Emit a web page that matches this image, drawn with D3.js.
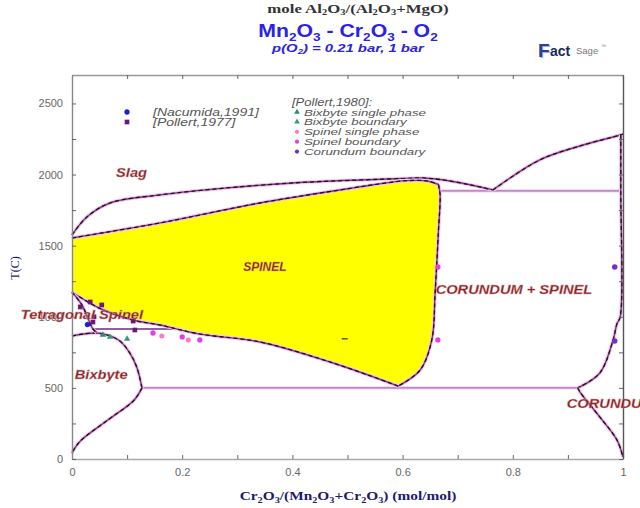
<!DOCTYPE html>
<html><head><meta charset="utf-8">
<script src="https://cdn.jsdelivr.net/npm/d3@7"></script>
<style>body{margin:0;background:#fff}svg{display:block}</style>
</head><body><svg id="c" width="640" height="508"></svg>
<script>
// ---------- data ----------
const xTickValues = [0,0.1,0.2,0.3,0.4,0.5,0.6,0.7,0.8,0.9,1];
const xTickLabels = ["0","","0.2","","0.4","","0.6","","0.8","","1"];
const yTickValues = [0,250,500,750,1000,1250,1500,1750,2000,2250,2500];
const yTickLabels = ["0","","500","","1000","","1500","","2000","","2500"];

// liquidus (slag boundary)
const liquidusLeft = [[0,1575],[0.027,1702],[0.069,1800],[0.16,1857],[0.281,1906],[0.401,1941],[0.523,1962],[0.6,1972],[0.637,1976],[0.668,1965],[0.72,1930],[0.764,1892]];
const liquidusRight = [[0.764,1892],[0.849,2103],[0.922,2201],[0.995,2278],[1.0,2285]];
// spinel single-phase field
const spinelTop = [[0,1554],[0.16,1660],[0.341,1800],[0.5,1900],[0.545,1927],[0.607,1957],[0.645,1955],[0.665,1930]];
const spinelRight = [[0.665,1930],[0.668,1860],[0.665,1600],[0.659,1167],[0.653,837],[0.632,626],[0.592,513]];
const spinelBottom = [[0.592,513],[0.47,680],[0.341,823],[0.23,880],[0.16,942],[0.111,977],[0.05,1060],[0,1174]];
// corundum boundary
const corundumUpper = [[0.996,2278],[0.996,1885],[0.995,1000],[0.989,950],[0.982,837],[0.958,605],[0.918,500]];
const corundumLower = [[0.918,500],[0.922,471],[0.958,295],[0.989,134],[1.0,14]];
// bixbyite boundary
const bixbyteUpper = [[0,865],[0.02,879],[0.05,884],[0.085,835],[0.105,745],[0.118,640],[0.127,500]];
const bixbyteLower = [[0.127,500],[0.113,415],[0.065,274],[0.017,134],[0.005,77],[0,40]];
// tetragonal spinel boundary
const tetraLine = [[0,1174],[0.018,1083],[0.038,914],[0.045,890]];
// invariant (horizontal) lines
const isoT1885 = [[0.667,1885],[0.996,1885]];
const isoT500 = [[0.127,500],[0.918,500]];
const isoT914 = [[0.038,914],[0.19,914]];

// experimental points
const nacumida1991 = [[0.028,945]];
const pollert1977 = [[0.015,1069],[0.033,1104],[0.054,1083],[0.038,963],[0.111,970],[0.114,907],[0.04,1000]];
const bixSingle = [[0.056,872]];
const bixBoundary = [[0.069,858],[0.1,844]];
const spinelSingle = [[0.163,865],[0.211,837]];
const spinelBoundary = [[0.147,886],[0.2,858],[0.232,837],[0.664,1350],[0.664,837]];
const corundumBoundary = [[0.985,1350],[0.985,830]];
const smallMark = [[0.495,845]];

const regionLabels = [
  {t:"Slag", x:0.08, y:1980, a:"start"},
  {t:"SPINEL", x:0.35, y:1320, a:"middle"},
  {t:"CORUNDUM + SPINEL", x:0.66, y:1160, a:"start"},
  {t:"Tetragonal Spinel", x:-0.093, y:985, a:"start"},
  {t:"Bixbyte", x:0.005, y:560, a:"start"},
  {t:"CORUNDUM", x:0.898, y:360, a:"start"}
];
const legendLeft = ["[Nacumida,1991]","[Pollert,1977]"];
const legendRight = ["Bixbyte single phase","Bixbyte boundary","Spinel single phase","Spinel boundary","Corundum boundary"];

// ---------- drawing ----------
const svg = d3.select("#c");
const x = d3.scaleLinear().domain([0,1]).range([72,623]);
const y = d3.scaleLinear().domain([0,2700]).range([459,75]);
const sans = "Liberation Sans, Arial, sans-serif";
const serif = "Liberation Serif, Times New Roman, serif";

function stretch(sel, factor){
  sel.each(function(){
    const L = this.getComputedTextLength();
    d3.select(this).attr("textLength", L*factor).attr("lengthAdjust","spacingAndGlyphs");
  });
}

const lineC = d3.line().x(d=>x(d[0])).y(d=>y(d[1])).curve(d3.curveCatmullRom.alpha(0.5));
const lineL = d3.line().x(d=>x(d[0])).y(d=>y(d[1]));

// spinel field
const spinelPath = [spinelTop, spinelRight, spinelBottom].map((s,i)=>{
  const p = lineC(s); return i===0 ? p : p.replace(/^M[^LC]*/, "");
}).join("") + "Z";
svg.append("path").attr("d", spinelPath).attr("fill","#ffff00").attr("stroke","none");

function boundary(pts, curved){
  const d = (curved?lineC:lineL)(pts);
  svg.append("path").attr("d",d).attr("fill","none").attr("stroke","#f0c8f0").attr("stroke-width",3.6).attr("stroke-linejoin","round");
  svg.append("path").attr("d",d).attr("fill","none").attr("stroke","#7a3a86").attr("stroke-width",1.4);
  svg.append("path").attr("d",d).attr("fill","none").attr("stroke","#2a1010").attr("stroke-width",1.3).attr("stroke-dasharray","4,3");
}
function isoLine(pts){
  const d = lineL(pts);
  svg.append("path").attr("d",d).attr("fill","none").attr("stroke","#f0d0f0").attr("stroke-width",3.2);
  svg.append("path").attr("d",d).attr("fill","none").attr("stroke","#b070b8").attr("stroke-width",1.4);
}
isoLine(isoT1885); isoLine(isoT500);
svg.append("path").attr("d",lineL(isoT914)).attr("fill","none").attr("stroke","#6a2a80").attr("stroke-width",1.5);
[liquidusLeft, liquidusRight, spinelTop, spinelRight, spinelBottom, corundumUpper, corundumLower, bixbyteUpper, bixbyteLower, tetraLine].forEach(b=>boundary(b,true));

// axes
function styleAxis(g, color){
  g.selectAll(".domain").attr("stroke",color).attr("stroke-width",1.4);
  g.selectAll(".tick line").attr("stroke","#666");
  g.selectAll("text").attr("fill","#666").attr("font-family",sans).attr("font-size",11);
}
const gx = svg.append("g").attr("transform","translate(0,459)")
  .call(d3.axisBottom(x).tickValues(xTickValues).tickFormat((d,i)=>xTickLabels[i]).tickSize(-4).tickPadding(9).tickSizeOuter(0));
styleAxis(gx,"#aaa");
const gxt = svg.append("g").attr("transform","translate(0,75)")
  .call(d3.axisTop(x).tickValues(xTickValues).tickFormat("").tickSize(-4).tickSizeOuter(0));
styleAxis(gxt,"#999");
const gy = svg.append("g").attr("transform","translate(72,0)")
  .call(d3.axisLeft(y).tickValues(yTickValues).tickFormat((d,i)=>yTickLabels[i]).tickSize(-4).tickPadding(9).tickSizeOuter(0));
styleAxis(gy,"#888");
const gyr = svg.append("g").attr("transform","translate(623,0)")
  .call(d3.axisRight(y).tickValues(yTickValues).tickFormat("").tickSize(-4).tickSizeOuter(0));
styleAxis(gyr,"#555");

// points
function dots(pts, color, shape, size){
  const sym = d3.symbol().type(shape).size(size);
  svg.append("g").selectAll("path").data(pts).join("path")
    .attr("transform",d=>`translate(${x(d[0])},${y(d[1])})`).attr("d",sym()).attr("fill",color);
}
dots(pollert1977,"#6a1a70",d3.symbolSquare,22);
dots(nacumida1991,"#2020d0",d3.symbolCircle,22);
dots(bixSingle,"#2e8a6a",d3.symbolTriangle,18);
dots(bixBoundary,"#3a9a80",d3.symbolTriangle,18);
dots(spinelSingle,"#ff78c8",d3.symbolCircle,20);
dots(spinelBoundary,"#e040e0",d3.symbolCircle,22);
dots(corundumBoundary,"#7030d0",d3.symbolCircle,24);
svg.append("g").selectAll("line").data(smallMark).join("line")
  .attr("x1",d=>x(d[0])-3).attr("x2",d=>x(d[0])+3).attr("y1",d=>y(d[1])).attr("y2",d=>y(d[1]))
  .attr("stroke","#333").attr("stroke-width",1.2);

// region labels
const rl = svg.append("g").selectAll("text").data(regionLabels).join("text")
  .attr("x",d=>x(d.x)).attr("y",d=>y(d.y)).attr("text-anchor",d=>d.a)
  .attr("font-family",sans).attr("font-weight","bold").attr("font-style","italic")
  .attr("font-size",12).attr("fill","#8a1c24").attr("stroke","#d8a0a0").attr("stroke-width",0.3)
  .text(d=>d.t);
stretch(rl.filter(d=>d.t!=="SPINEL"), 1.22);

// legend
const legColorsL = [["#2020d0",d3.symbolCircle],["#6a1a70",d3.symbolSquare]];
legendLeft.forEach((t,i)=>{
  svg.append("path").attr("transform",`translate(127,${112+i*10})`).attr("d",d3.symbol().type(legColorsL[i][1]).size(22)()).attr("fill",legColorsL[i][0]);
  const tx = svg.append("text").attr("x",153).attr("y",115.5+i*10).attr("font-family",sans).attr("font-style","italic").attr("font-size",10).attr("fill","#555").text(t);
  stretch(tx, 1.4);
});
const ph = svg.append("text").attr("x",292).attr("y",106).attr("font-family",sans).attr("font-style","italic").attr("font-size",10).attr("fill","#555").text("[Pollert,1980]:");
stretch(ph,1.3);
const legColorsR = [["#2e8a6a",d3.symbolTriangle],["#3a9a80",d3.symbolTriangle],["#ff78c8",d3.symbolCircle],["#e040e0",d3.symbolCircle],["#7030d0",d3.symbolCircle]];
legendRight.forEach((t,i)=>{
  svg.append("path").attr("transform",`translate(297,${112+i*9.9})`).attr("d",d3.symbol().type(legColorsR[i][1]).size(14)()).attr("fill",legColorsR[i][0]);
  const tx = svg.append("text").attr("x",304).attr("y",115.5+i*9.9).attr("font-family",sans).attr("font-style","italic").attr("font-size",9.5).attr("fill","#555").text(t);
  stretch(tx, 1.4);
});

// titles
const t1 = svg.append("text").attr("x",358).attr("y",13).attr("text-anchor","middle").attr("font-family",serif).attr("font-weight","bold").attr("font-size",12).attr("fill","#333");
t1.append("tspan").text("mole Al");
t1.append("tspan").attr("font-size",7.5).attr("dy",2).text("2");
t1.append("tspan").attr("dy",-2).text("O");
t1.append("tspan").attr("font-size",7.5).attr("dy",2).text("3");
t1.append("tspan").attr("dy",-2).text("/(Al");
t1.append("tspan").attr("font-size",7.5).attr("dy",2).text("2");
t1.append("tspan").attr("dy",-2).text("O");
t1.append("tspan").attr("font-size",7.5).attr("dy",2).text("3");
t1.append("tspan").attr("dy",-2).text("+MgO)");
stretch(t1,1.4);

const t2 = svg.append("text").attr("x",348).attr("y",37).attr("text-anchor","middle").attr("font-family",sans).attr("font-weight","bold").attr("font-size",18).attr("fill","#2a22e8");
[["Mn",0],["2",1],[("O"),0],["3",1],[" - Cr",0],["2",1],["O",0],["3",1],[" - O",0],["2",1]].forEach(([s,sub],i,arr)=>{
  const prevSub = i>0 ? arr[i-1][1] : 0;
  const dy = sub && !prevSub ? 4 : (!sub && prevSub ? -4 : 0);
  t2.append("tspan").attr("font-size",sub?11.5:18).attr("dy",dy).text(s);
});
stretch(t2,1.18);

const t3 = svg.append("text").attr("x",348).attr("y",52).attr("text-anchor","middle").attr("font-family",sans).attr("font-weight","bold").attr("font-style","italic").attr("font-size",11).attr("fill","#2a22e8");
t3.append("tspan").text("p(O");
t3.append("tspan").attr("font-size",7).attr("dy",2).text("2");
t3.append("tspan").attr("dy",-2).text(") = 0.21 bar,  1 bar");
stretch(t3,1.35);

// FactSage logo
const lg = svg.append("g").attr("transform","translate(538,57)");
lg.append("text").attr("x",1).attr("y",1).attr("font-family",sans).attr("font-weight","bold").attr("font-size",19).attr("fill","#9ab0e0").text("F");
lg.append("text").attr("x",0).attr("y",0).attr("font-family",sans).attr("font-weight","bold").attr("font-size",19).attr("fill","#2a3f8f").text("F");
lg.append("text").attr("x",12).attr("y",-1).attr("font-family",sans).attr("font-weight","bold").attr("font-size",14).attr("fill","#1a2a5a").text("act");
lg.append("text").attr("x",38).attr("y",-3).attr("font-family",sans).attr("font-size",9.5).attr("fill","#777").text("Sage");
lg.append("text").attr("x",63).attr("y",-9).attr("font-family",sans).attr("font-size",5).attr("fill","#777").text("™");

// axis titles
svg.append("text").attr("transform","translate(19,268) rotate(-90)").attr("text-anchor","middle").attr("font-family",serif).attr("font-size",12).attr("fill","#1a1a70").text("T(C)");
const xt = svg.append("text").attr("x",348).attr("y",500).attr("text-anchor","middle").attr("font-family",serif).attr("font-weight","bold").attr("font-size",12).attr("fill","#1a1a70");
[["Cr",0],["2",1],["O",0],["3",1],["/(Mn",0],["2",1],["O",0],["3",1],["+Cr",0],["2",1],["O",0],["3",1],[") (mol/mol)",0]].forEach(([s,sub],i,arr)=>{
  const prevSub = i>0 ? arr[i-1][1] : 0;
  const dy = sub && !prevSub ? 2.5 : (!sub && prevSub ? -2.5 : 0);
  xt.append("tspan").attr("font-size",sub?8:12).attr("dy",dy).text(s);
});
stretch(xt,1.28);
</script></body></html>
